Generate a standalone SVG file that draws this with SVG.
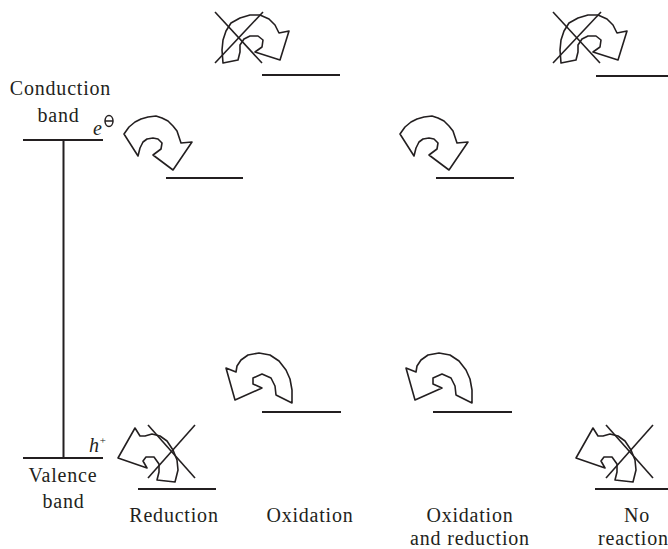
<svg xmlns="http://www.w3.org/2000/svg" width="668" height="549" viewBox="0 0 668 549">
<defs>
<style>
.t{font-family:"Liberation Serif","Times New Roman",serif;font-size:20px;fill:#231f20;letter-spacing:0.8px}
.i{font-style:italic;letter-spacing:0}
.lv{stroke:#231f20;stroke-width:2;fill:none}
.ar{stroke:#231f20;stroke-width:1.6;fill:none;stroke-linejoin:round}
.x{stroke:#231f20;stroke-width:1.5;fill:none}
</style>
<path id="arrUp" d="M124,134 L129,127 L135,122 L141,119 L148,117 L156,116 L162,118 L168,121 L173,126 L177,131 L179,137 L181,143 L192,142 L173,170 L153,155 L161,149 L162,143 L158,139 L153,138 L147,139 L143,142 L140,148 L138,156 Z"/>
<path id="arrDn" d="M292,403 L292,390 L290,379 L286,370 L279,361 L270,355 L259,353 L248,355 L241,360 L237,366 L236,372 L226,368 L235,400 L262,388 L253,384 L253,378 L262,374 L271,378 L275,386 L276,395 Z"/>
<g id="crossTop">
<path d="M223,63 L222,50 L223,40 L226,31 L231,23 L240,18 L250,15 L260,15 L269,19 L275,25 L279,33 L289,31 L280,60 L255,52 L262,47 L263,40 L258,36 L250,36 L244,39 L240,45 L240,52 L238,60 Z"/>
<line x1="215" y1="12" x2="262" y2="63"/>
<line x1="215" y1="63" x2="263" y2="12"/>
</g>
<g id="crossBot">
<path d="M135,428 L118,458 L147,468 L143,461 L146,457 L154,457 L159,464 L159,472 L157,480 L175,482 L178,470 L177,460 L173,450 L167,441 L160,436 L152,434 L145,436 L140,436 Z"/>
<line x1="148" y1="425" x2="195" y2="478"/>
<line x1="148" y1="478" x2="195" y2="425"/>
</g>
</defs>
<rect width="668" height="549" fill="#ffffff"/>

<g id="semiconductor">
<line class="lv" x1="23" y1="140" x2="103" y2="140"/>
<line class="lv" x1="63.5" y1="140" x2="63.5" y2="458"/>
<line class="lv" x1="23" y1="458" x2="103" y2="458"/>
<text class="t" x="60.5" y="95" text-anchor="middle">Conduction</text>
<text class="t" x="58.5" y="122" text-anchor="middle">band</text>
<text class="t i" x="93" y="135">e</text>
<ellipse cx="109" cy="121" rx="4" ry="5.5" class="x"/>
<line x1="105" y1="121" x2="113" y2="121" class="x"/>
<text class="t i" x="89" y="452">h<tspan font-size="11" dy="-8">+</tspan></text>
<text class="t" x="63" y="482" text-anchor="middle">Valence</text>
<text class="t" x="63.5" y="508" text-anchor="middle">band</text>
</g>

<g id="col-reduction">
<line class="lv" x1="166" y1="178" x2="243" y2="178"/>
<line class="lv" x1="138" y1="489" x2="216" y2="489"/>
<text class="t" x="174" y="522" text-anchor="middle">Reduction</text>
</g>

<g id="col-oxidation">
<line class="lv" x1="262" y1="75" x2="340" y2="75"/>
<line class="lv" x1="262" y1="412" x2="341" y2="412"/>
<text class="t" x="310" y="522" text-anchor="middle">Oxidation</text>
</g>

<g id="col-oxred">
<line class="lv" x1="436" y1="178" x2="514" y2="178"/>
<line class="lv" x1="433" y1="412" x2="512" y2="412"/>
<text class="t" x="470" y="522" text-anchor="middle">Oxidation</text>
<text class="t" x="470" y="545" text-anchor="middle">and reduction</text>
</g>

<g id="col-noreaction">
<line class="lv" x1="596" y1="76" x2="668" y2="76"/>
<line class="lv" x1="595" y1="489" x2="668" y2="489"/>
<text class="t" x="637" y="522" text-anchor="middle">No</text>
<text class="t" x="598" y="545">reaction</text>
</g>

<g id="connectors">
<use href="#arrUp" class="ar"/>
<use href="#arrUp" class="ar" transform="translate(276,0)"/>
<use href="#arrDn" class="ar"/>
<use href="#arrDn" class="ar" transform="translate(180,0)"/>
<use href="#crossTop" class="ar"/>
<use href="#crossTop" class="ar" transform="translate(338,0)"/>
<use href="#crossBot" class="ar"/>
<use href="#crossBot" class="ar" transform="translate(458,0)"/>
</g>
</svg>
